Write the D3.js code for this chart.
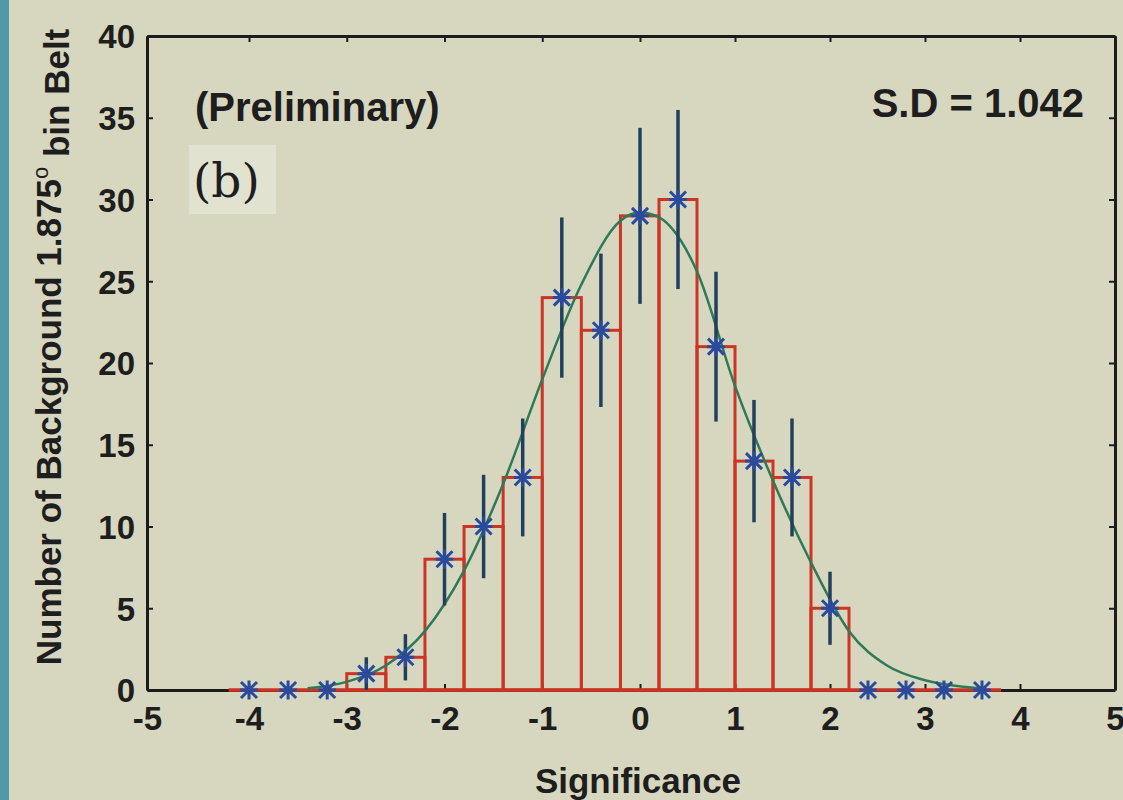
<!DOCTYPE html>
<html>
<head>
<meta charset="utf-8">
<script src="https://cdn.jsdelivr.net/npm/d3@7"></script>
<style>
  html, body { margin: 0; padding: 0; background: #d6d7be; }
  svg { display: block; }
  text { font-family: "Liberation Sans", Arial, sans-serif; fill: #1e1e1e; font-weight: bold; }
</style>
</head>
<body>
<div id="chart"></div>
<script>
// histogram bins (centre of each 0.4 wide bin) and counts
const binCenters = [-4.0, -3.6, -3.2, -2.8, -2.4, -2.0, -1.6, -1.2, -0.8, -0.4,
                    0.0, 0.4, 0.8, 1.2, 1.6, 2.0, 2.4, 2.8, 3.2, 3.6];
const counts = [0, 0, 0, 1, 2, 8, 10, 13, 24, 22, 29, 30, 21, 14, 13, 5, 0, 0, 0, 0];
const binWidth = 0.4;

// gaussian fit curve
const fitX = [-3.4, -3.0, -2.6, -2.2, -1.8, -1.4, -1.0, -0.6, -0.2, 0.0,
              0.2, 0.6, 1.0, 1.4, 1.8, 2.2, 2.6, 3.0, 3.4, 3.6];
const fitY = [0.1, 0.5, 1.5, 3.6, 7.3, 12.6, 19.0, 24.8, 28.7, 29.2,
              28.9, 25.6, 18.6, 12.8, 7.8, 3.6, 1.5, 0.6, 0.2, 0.1];

const xTicks = [-5, -4, -3, -2, -1, 0, 1, 2, 3, 4, 5];
const yTicks = [0, 5, 10, 15, 20, 25, 30, 35, 40];

const width = 1123, height = 800;
const m = { left: 147, right: 1115, top: 36, bottom: 690 };

const svg = d3.select("#chart").append("svg")
  .attr("width", width)
  .attr("height", height);

svg.append("rect").attr("width", width).attr("height", height).attr("fill", "#d6d7be");
// teal strip on the left edge of the photo
svg.append("rect").attr("x", 0).attr("y", 0).attr("width", 9).attr("height", height).attr("fill", "#4f98a6");

// the photo is a little stretched on the left, so the x scale is polylinear
const x = d3.scaleLinear().domain([-5, -4, 0, 5]).range([m.left, 249, 640, m.right]);
const y = d3.scaleLinear().domain([0, 40]).range([m.bottom, m.top]);

// (b) label box
svg.append("rect")
  .attr("x", 189).attr("y", 145).attr("width", 87).attr("height", 69)
  .attr("fill", "#e1e2cf");

// axes with inward ticks
const axisColor = "#1c1c1c";
const fmt = d => String(d);
const xAxis = svg.append("g").attr("transform", `translate(0,${m.bottom})`)
  .call(d3.axisBottom(x).tickValues(xTicks).tickFormat(fmt).tickSizeInner(-6).tickSizeOuter(0).tickPadding(12));
const xTop = svg.append("g").attr("transform", `translate(0,${m.top})`)
  .call(d3.axisTop(x).tickValues(xTicks).tickSizeInner(-6).tickSizeOuter(0).tickFormat(""));
const yAxis = svg.append("g").attr("transform", `translate(${m.left},0)`)
  .call(d3.axisLeft(y).tickValues(yTicks).tickFormat(fmt).tickSizeInner(-6).tickSizeOuter(0).tickPadding(12));
const yRight = svg.append("g").attr("transform", `translate(${m.right},0)`)
  .call(d3.axisRight(y).tickValues(yTicks).tickSizeInner(-6).tickSizeOuter(0).tickFormat(""));

[xAxis, xTop, yAxis, yRight].forEach(g => {
  g.select(".domain").attr("stroke", axisColor).attr("stroke-width", 3);
  g.selectAll(".tick line").attr("stroke", axisColor).attr("stroke-width", 2);
  g.selectAll(".tick text")
    .attr("fill", "#1e1e1e")
    .style("font-size", "33px")
    .style("font-weight", "bold")
    .style("font-family", "'Liberation Sans', Arial, sans-serif");
});
yAxis.selectAll(".tick text").attr("dy", "0.36em");
xAxis.selectAll(".tick text").attr("dy", "0.85em");

// histogram bars
const bars = binCenters.map((c, i) => ({ c, v: counts[i] }));
const red = "#cc3526";

svg.append("g").selectAll("rect")
  .data(bars.filter(d => d.v > 0))
  .join("rect")
  .attr("x", d => x(d.c - binWidth / 2))
  .attr("y", d => y(d.v))
  .attr("width", d => x(d.c + binWidth / 2) - x(d.c - binWidth / 2))
  .attr("height", d => y(0) - y(d.v))
  .attr("fill", "none")
  .attr("stroke", red)
  .attr("stroke-width", 3);

// zero-height bins lie on the baseline
svg.append("line")
  .attr("x1", x(binCenters[0] - binWidth / 2))
  .attr("x2", x(binCenters[binCenters.length - 1] + binWidth / 2))
  .attr("y1", y(0)).attr("y2", y(0))
  .attr("stroke", red).attr("stroke-width", 3.5);

// gaussian fit
const line = d3.line()
  .x((d, i) => x(fitX[i]))
  .y(d => y(d))
  .curve(d3.curveMonotoneX);

svg.append("path")
  .datum(fitY)
  .attr("d", line)
  .attr("fill", "none")
  .attr("stroke", "#2e7a58")
  .attr("stroke-width", 2.5);

// error bars (sqrt N)
svg.append("g").selectAll("line")
  .data(bars.filter(d => d.v > 0))
  .join("line")
  .attr("x1", d => x(d.c)).attr("x2", d => x(d.c))
  .attr("y1", d => y(d.v + Math.sqrt(d.v)))
  .attr("y2", d => y(d.v - Math.sqrt(d.v)))
  .attr("stroke", "#22405e")
  .attr("stroke-width", 3.5);

// asterisk markers
const s = 8;
const markers = svg.append("g").selectAll("g")
  .data(bars)
  .join("g")
  .attr("transform", d => `translate(${x(d.c)},${y(d.v)})`);
markers.append("path")
  .attr("d", `M${-s},${-s}L${s},${s}M${-s},${s}L${s},${-s}M0,${-s * 1.2}L0,${s * 1.2}M${-s * 1.1},0L${s * 1.1},0`)
  .attr("stroke", "#2a4a9e")
  .attr("stroke-width", 3)
  .attr("fill", "none");

// annotations
svg.append("text").attr("x", 195).attr("y", 121)
  .style("font-size", "40px")
  .text("(Preliminary)");
svg.append("text").attr("x", 193).attr("y", 197)
  .style("font-size", "47px").style("font-weight", "normal")
  .style("font-family", "'DejaVu Serif', 'Liberation Serif', serif")
  .text("(b)");
svg.append("text").attr("x", 1084).attr("y", 117).attr("text-anchor", "end")
  .style("font-size", "40px")
  .text("S.D = 1.042");

svg.append("text").attr("x", 638).attr("y", 793).attr("text-anchor", "middle")
  .style("font-size", "35px")
  .text("Significance");

const yl = svg.append("text")
  .attr("transform", "translate(61,347) rotate(-90)")
  .attr("text-anchor", "middle")
  .style("font-size", "35px");
yl.append("tspan").text("Number of Background 1.875");
yl.append("tspan").attr("dy", "-0.6em").style("font-size", "22px").style("font-weight", "normal").text("o");
yl.append("tspan").attr("dy", "0.6em").text(" bin Belt");
</script>
</body>
</html>
